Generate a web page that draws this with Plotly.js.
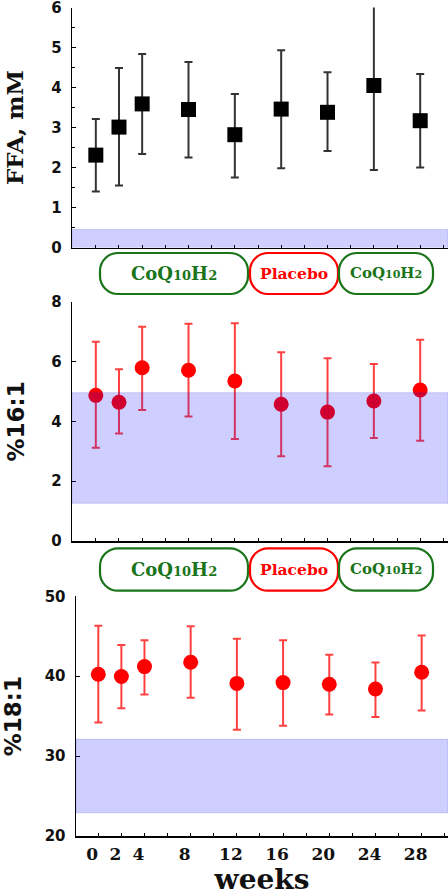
<!DOCTYPE html>
<html>
<head>
<meta charset="utf-8">
<script src="https://cdn.plot.ly/plotly-3.0.1.min.js"></script>
<style>html,body{margin:0;padding:0;background:#fff;}#chart{width:448px;height:896px;}</style>
</head>
<body>
<div id="chart"></div>
<script>
// ---- data ----
const weeks = [0, 2, 4, 8, 12, 16, 20, 24, 28];

const ffaMean  = [2.31, 3.01, 3.59, 3.45, 2.82, 3.46, 3.38, 4.05, 3.17];
const ffaUpper = [3.21, 4.49, 4.84, 4.64, 3.84, 4.93, 4.38, 6.15, 4.34];
const ffaLower = [1.40, 1.55, 2.34, 2.25, 1.75, 1.98, 2.41, 1.94, 2.00];
const ffaNormal = [0, 0.45];

const p161Mean  = [4.87, 4.64, 5.79, 5.71, 5.35, 4.57, 4.31, 4.68, 5.05];
const p161Upper = [6.66, 5.74, 7.16, 7.26, 7.28, 6.31, 6.11, 5.92, 6.73];
const p161Lower = [3.12, 3.59, 4.38, 4.16, 3.41, 2.83, 2.50, 3.44, 3.35];
const p161Normal = [1.26, 4.96];

const p181Mean  = [40.25, 39.96, 41.2, 41.75, 39.1, 39.2, 39.0, 38.4, 40.5];
const p181Upper = [46.3, 43.9, 44.5, 46.25, 44.7, 44.5, 42.7, 41.7, 45.1];
const p181Lower = [34.2, 36.0, 37.7, 37.3, 33.3, 33.8, 35.2, 34.9, 35.7];
const p181Normal = [22.9, 32.1];

const tickWeeks  = [0, 2, 4, 8, 12, 16, 20, 24, 28];
const tickLabels = ['0', '2', '4', '8', '12', '16', '20', '24', '28'];

const phaseNames  = ['CoQ10H2', 'Placebo', 'CoQ10H2'];
const phaseColors = ['#1a741a', '#ff0000', '#1a741a'];

// ---- helpers ----
const W = 448, H = 896;
const X = px => px / W;
const Y = py => 1 - py / H;
const diff = (a, b) => a.map((v, i) => v - b[i]);

// render "CoQ10H2" with smaller digits (subscript look)
function phaseText(name, size) {
  const small = Math.round(size * 0.74);
  return name.replace(/(\d+)/g, '<span style="font-size:' + small + 'px">$1</span>');
}

function roundRect(x0, y0, x1, y1, r) {
  const k = 0.5523 * r;
  const p = (x, y) => X(x).toFixed(5) + ',' + Y(y).toFixed(5);
  return 'M' + p(x0 + r, y0) + ' L' + p(x1 - r, y0) +
    ' C' + p(x1 - r + k, y0) + ' ' + p(x1, y0 + r - k) + ' ' + p(x1, y0 + r) +
    ' L' + p(x1, y1 - r) +
    ' C' + p(x1, y1 - r + k) + ' ' + p(x1 - r + k, y1) + ' ' + p(x1 - r, y1) +
    ' L' + p(x0 + r, y1) +
    ' C' + p(x0 + r - k, y1) + ' ' + p(x0, y1 - r + k) + ' ' + p(x0, y1 - r) +
    ' L' + p(x0, y0 + r) +
    ' C' + p(x0, y0 + r - k) + ' ' + p(x0 + r - k, y0) + ' ' + p(x0 + r, y0) + ' Z';
}

const errRed = {color: 'rgba(255,0,0,0.75)', thickness: 2, width: 4};

const traces = [
  {
    x: weeks, y: ffaMean, xaxis: 'x', yaxis: 'y', type: 'scatter', mode: 'markers',
    marker: {symbol: 'square', size: 15, color: '#000'},
    error_y: {type: 'data', symmetric: false, array: diff(ffaUpper, ffaMean), arrayminus: diff(ffaMean, ffaLower),
              color: '#333', thickness: 2, width: 4},
    cliponaxis: false, showlegend: false
  },
  {
    x: weeks, y: p161Mean, xaxis: 'x2', yaxis: 'y2', type: 'scatter', mode: 'markers',
    marker: {symbol: 'circle', size: 15, color: '#ff0000'},
    error_y: Object.assign({type: 'data', symmetric: false, array: diff(p161Upper, p161Mean), arrayminus: diff(p161Mean, p161Lower)}, errRed),
    cliponaxis: false, showlegend: false
  },
  {
    x: weeks, y: p181Mean, xaxis: 'x3', yaxis: 'y3', type: 'scatter', mode: 'markers',
    marker: {symbol: 'circle', size: 15, color: '#ff0000'},
    error_y: Object.assign({type: 'data', symmetric: false, array: diff(p181Upper, p181Mean), arrayminus: diff(p181Mean, p181Lower)}, errRed),
    cliponaxis: false, showlegend: false
  }
];

const tickFontSans = {family: 'DejaVu Sans', size: 15, color: '#111', weight: 'bold'};
const tickFontSerif = {family: 'DejaVu Serif', size: 17, color: '#111', weight: 'bold'};

function xAxis(domainLeft, range, showLabels) {
  return {
    domain: [X(domainLeft), 1], range: range,
    showline: true, linecolor: '#000', linewidth: 1.5, zeroline: false, showgrid: false,
    ticks: 'inside', ticklen: 3, tickcolor: '#000', tickwidth: 1,
    tickmode: 'array', tickvals: tickWeeks, ticktext: tickLabels,
    minor: {tick0: 0, dtick: 2, ticks: 'inside', ticklen: 3, tickcolor: '#000', tickwidth: 1, showgrid: false},
    showticklabels: showLabels, tickfont: tickFontSerif, ticklabelshift: -6, ticklabelstandoff: 2
  };
}
function yAxis(top, bottom, range, dtick, minor) {
  const ax = {
    domain: [Y(bottom), Y(top)], range: range,
    showline: true, linecolor: '#000', linewidth: 1.5, zeroline: false, showgrid: false,
    ticks: 'inside', ticklen: 4, tickcolor: '#000', tickwidth: 1, dtick: dtick, tick0: 0,
    tickfont: tickFontSans, ticklabelstandoff: 6, ticklabeloverflow: 'allow'
  };
  if (minor) ax.minor = {dtick: minor, ticks: 'inside', ticklen: 3, tickcolor: '#000', showgrid: false};
  return ax;
}

const layout = {
  width: W, height: H,
  margin: {l: 0, r: 0, t: 0, b: 0},
  paper_bgcolor: '#fff', plot_bgcolor: '#fff',
  showlegend: false,
  xaxis: Object.assign(xAxis(72.3, [-2.03, 30.4], false), {anchor: 'y'}),
  xaxis2: Object.assign(xAxis(72.3, [-2.03, 30.4], false), {anchor: 'y2'}),
  xaxis3: Object.assign(xAxis(76, [-1.93, 30.28], true), {anchor: 'y3',
    title: {text: 'weeks', font: {family: 'DejaVu Serif', size: 28, color: '#111', weight: 'bold'}, standoff: 8}}),
  yaxis: Object.assign(yAxis(7.5, 247.5, [0, 6], 1, 0.5), {anchor: 'x',
    title: {text: 'FFA, mM', font: {family: 'DejaVu Serif', size: 23, color: '#111', weight: 'bold'}, standoff: 21}}),
  yaxis2: Object.assign(yAxis(301.7, 541, [0, 8], 2, null), {anchor: 'x2',
    title: {text: '%16:1', font: {family: 'DejaVu Sans', size: 23, color: '#111', weight: 'bold'}, standoff: 20}}),
  yaxis3: Object.assign(yAxis(596.3, 836, [20, 50], 10, null), {anchor: 'x3',
    title: {text: '%18:1', font: {family: 'DejaVu Sans', size: 23, color: '#111', weight: 'bold'}, standoff: 17}}),
  shapes: [],
  annotations: []
};

// normal-range bands (drawn above the data, semi-transparent)
[[ffaNormal, 'x', 'y'], [p161Normal, 'x2', 'y2'], [p181Normal, 'x3', 'y3']].forEach(([b, xa, ya]) => {
  layout.shapes.push({
    type: 'rect', layer: 'above', xref: xa + ' domain', yref: ya,
    x0: 0, x1: 1, y0: b[0], y1: b[1],
    fillcolor: 'rgba(0,0,255,0.19)', line: {color: 'rgba(40,40,200,0.18)', width: 1}
  });
});

// treatment phase boxes
const boxX = [[100, 248], [250, 338], [339, 433]];
const boxRows = [[253, 294], [548.3, 590.7]];
const boxFont = [18, 15.5, 15];
boxRows.forEach(([yt, yb]) => {
  boxX.forEach(([xl, xr], i) => {
    layout.shapes.push({
      type: 'path', xref: 'paper', yref: 'paper',
      path: roundRect(xl, yt, xr, yb, 18),
      line: {color: phaseColors[i], width: 2.2}, fillcolor: 'rgba(0,0,0,0)'
    });
    layout.annotations.push({
      xref: 'paper', yref: 'paper', x: X((xl + xr) / 2), y: Y((yt + yb) / 2 - 0.5),
      xanchor: 'center', yanchor: 'middle', showarrow: false,
      text: phaseText(phaseNames[i], boxFont[i]),
      font: {family: 'DejaVu Serif', size: boxFont[i], color: phaseColors[i], weight: 'bold'}
    });
  });
});

Plotly.newPlot('chart', traces, layout, {staticPlot: true, displayModeBar: false});
</script>
</body>
</html>
